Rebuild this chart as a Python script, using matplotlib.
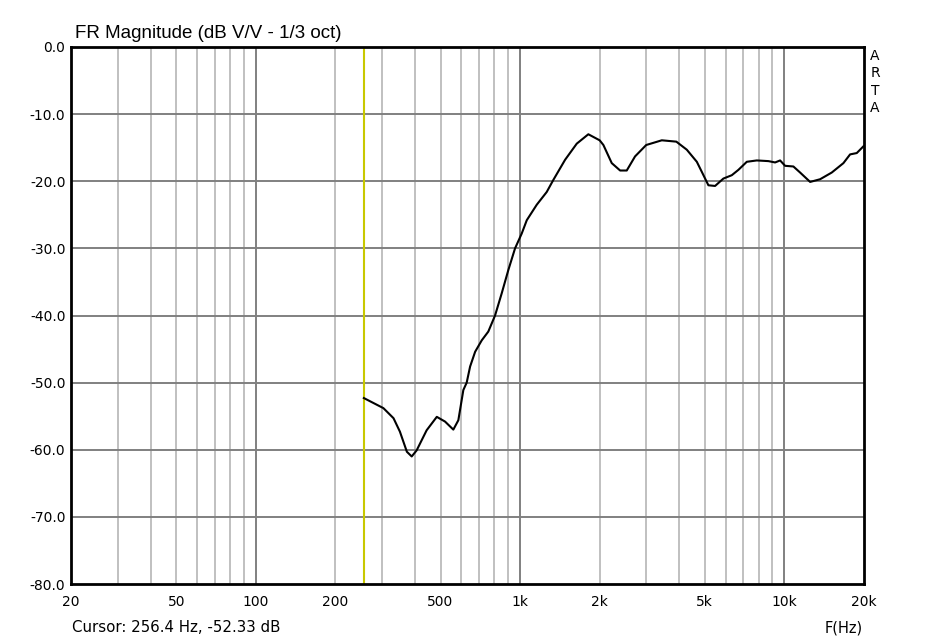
import matplotlib
matplotlib.use("Agg")
import matplotlib.pyplot as plt

plt.rcParams["font.family"] = ["DejaVu Sans"]

# ── data ───────────────────────────────────────────────────────────────────────
freq_hz = [256.4, 304, 332, 351, 373, 389, 406, 443, 484, 520, 559, 584, 610,
           628, 647, 676, 716, 758, 804, 852, 903, 957, 1014, 1060, 1156,
           1261, 1336, 1480, 1638, 1812, 2000, 2066, 2222, 2390, 2532, 2722,
           3000, 3436, 3900, 4272, 4662, 4869, 5157, 5466, 5876, 6322, 6698,
           7206, 7860, 8697, 9220, 9630, 10058, 10812, 11462, 12510, 13645,
           15105, 16715, 17718, 18779, 19896]
mag_db = [-52.3, -53.8, -55.3, -57.3, -60.3, -61.0, -60.1, -57.1, -55.1,
          -55.8, -57.0, -55.6, -51.1, -50.0, -47.6, -45.4, -43.7, -42.4,
          -40.0, -36.7, -33.2, -30.0, -27.8, -25.8, -23.5, -21.6,
          -19.8, -16.8, -14.4, -13.0, -13.9, -14.6, -17.3, -18.4, -18.4,
          -16.3, -14.6, -13.9, -14.1, -15.3, -17.1, -18.6, -20.6, -20.7,
          -19.6, -19.1, -18.3, -17.1, -16.9, -17.0, -17.2, -16.9, -17.7,
          -17.8, -18.7, -20.1, -19.7, -18.7, -17.3, -16.0, -15.8, -14.8]

x_ticks = [20, 50, 100, 200, 500, 1000, 2000, 5000, 10000, 20000]
x_tick_labels = ["20", "50", "100", "200", "500", "1k", "2k", "5k", "10k", "20k"]
y_ticks = [0, -10, -20, -30, -40, -50, -60, -70, -80]
cursor_hz = 256.4
cursor_db = -52.33

# ── figure ─────────────────────────────────────────────────────────────────────
fig = plt.figure(figsize=(9.37, 6.41), dpi=100)
ax = fig.add_axes([71 / 937, 1 - 584 / 641, 793 / 937, 537 / 641])

ax.set_xscale("log")
ax.set_xlim(20, 20000)
ax.set_ylim(-80, 0)

# grid: light minor verticals, darker decades and dB lines
minor = [m * d for d in (10, 100, 1000, 10000) for m in range(2, 10)
         if 20 < m * d < 20000]
for f in minor:
    ax.axvline(f, color="#c0c0c0", lw=1.4, zorder=1)
for f in (100, 1000, 10000):
    ax.axvline(f, color="#808080", lw=1.4, zorder=1)
for v in y_ticks[1:-1]:
    ax.axhline(v, color="#808080", lw=1.4, zorder=1)

ax.axvline(cursor_hz, color="#c8c800", lw=1.5, zorder=2)
ax.plot(freq_hz, mag_db, color="black", lw=1.5, zorder=3,
        solid_joinstyle="round")

ax.set_xticks(x_ticks)
ax.set_xticklabels(x_tick_labels)
ax.minorticks_off()
ax.set_yticks(y_ticks)
ax.set_yticklabels([f"{v:.1f}" for v in y_ticks])
ax.tick_params(length=0, labelsize=10)
ax.tick_params(axis="y", pad=4)
ax.tick_params(axis="x", pad=8)

for s in ax.spines.values():
    s.set_linewidth(2)
    s.set_color("black")

fig.text(75 / 937, 1 - 33 / 641, "FR Magnitude (dB V/V - 1/3 oct)",
         fontsize=13.5, va="center", ha="left", family="Liberation Sans")
fig.text(72 / 937, 1 - 628 / 641,
         f"Cursor: {cursor_hz} Hz, {cursor_db:.2f} dB",
         fontsize=10.8, va="center", ha="left")
fig.text(863 / 937, 1 - 628 / 641, "F(Hz)", fontsize=10.5,
         va="center", ha="right")
for i, ch in enumerate("ARTA"):
    fig.text(875 / 937, 1 - (56 + i * 17.3) / 641, ch, fontsize=10,
             va="center", ha="center")

fig.savefig("out.png", dpi=100, facecolor="white")
